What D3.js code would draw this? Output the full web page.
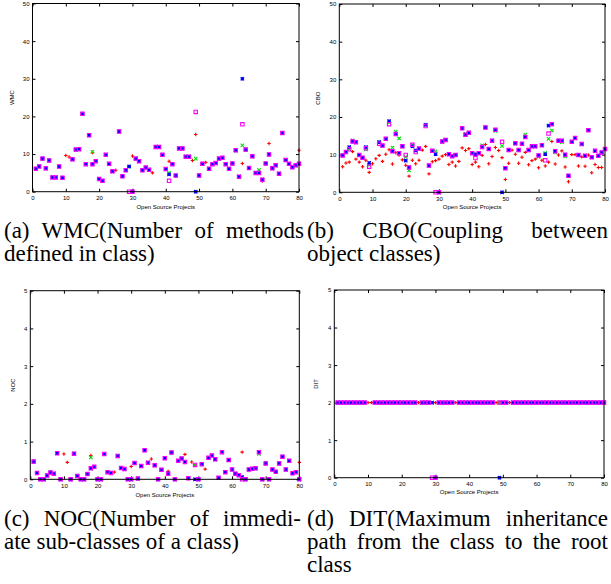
<!DOCTYPE html>
<html>
<head>
<meta charset="utf-8">
<script src="https://d3js.org/d3.v7.min.js"></script>
<style>
  body { margin: 0; background: #fff; }
  svg { display: block; }
  .tick text { font-family: "Liberation Sans", Arial, sans-serif; font-size: 6px; fill: #000; }
  .tick line { stroke: #000; }
  .axlab { font-family: "Liberation Sans", Arial, sans-serif; font-size: 6px; fill: #000; }
  .cap { font-family: "Liberation Serif", "Times New Roman", serif; font-size: 23px; fill: #000; }
</style>
</head>
<body>
<svg id="fig" width="611" height="584"></svg>
<script>
// project index on the x axis
var projects = d3.range(1, 81);
var xTickLabels = [0, 10, 20, 30, 40, 50, 60, 70, 80];
var yTicksBig = [0, 10, 20, 30, 40, 50];
var yTicksSmall = [0, 1, 2, 3, 4, 5];

// (a) WMC
var wmcRed = [6.1, 6.7, 8.8, 6.2, 8.3, 3.8, 3.8, 6.7, 3.7, 9.6,
  9.2, 8.6, 11.2, 11.3, 20.7, 7.3, 15.0, 10.4, 8.1, 3.4,
  2.9, 9.8, 7.4, 5.4, 5.7, 16.0, 4.1, 5.7, 6.7, 9.5,
  8.8, 8.1, 5.7, 6.4, 5.8, 5.0, 11.9, 11.9, 9.8, 6.0,
  8.1, 7.3, 4.3, 11.5, 11.5, 9.3, 9.3, 8.3, 15.2, 4.3,
  7.4, 7.8, 6.1, 7.3, 7.6, 8.8, 9.0, 7.3, 6.1, 7.5,
  11.0, 4.0, 7.5, 11.2, 6.3, 9.4, 5.0, 5.0, 2.8, 7.5,
  12.8, 6.2, 7.0, 4.8, 15.6, 8.4, 7.4, 6.5, 7.0, 11.0];
var wmcGreen = [6.1, 6.7, 8.8, 6.2, 8.3, 3.8, 3.8, 6.7, 3.7, null,
  null, 8.6, 11.2, 11.3, 20.7, 7.3, 15.0, 10.6, 8.1, 3.4,
  2.9, 9.8, 7.4, 5.4, null, 16.0, 4.1, 5.7, 6.7, 0,
  8.8, 8.1, 5.7, 6.4, 5.8, null, 11.9, 11.9, 9.8, 6.0,
  5.0, 7.3, 4.3, 11.5, 11.5, 9.3, 9.3, null, 8.8, 4.3,
  7.4, null, 6.1, 7.3, 7.6, 8.8, 9.0, 7.3, 6.1, 7.5,
  11.0, 4.0, 12.3, 11.2, 6.3, 9.4, 5.0, 5.8, 3.2, 7.5,
  9.9, 6.2, 7.0, 4.8, 15.6, 8.4, 7.4, 6.5, 7.0, 7.4];
var wmcBlue = [6.1, 6.7, 8.8, 6.2, 8.3, 3.8, 3.8, 6.7, 3.7, null,
  null, 8.6, 11.2, 11.3, 20.7, 7.3, 15.0, 7.3, 8.1, 3.4,
  2.9, 9.8, 7.4, 5.4, null, 16.0, 4.1, 5.7, 6.7, 0,
  8.8, 8.1, 5.7, 6.4, 5.8, null, 11.9, 11.9, 9.8, 6.0,
  4.6, 7.3, 4.3, 11.5, 11.5, 9.3, 9.3, null, 0, 4.3,
  7.4, null, 6.1, 7.3, 7.6, 8.8, 9.0, 7.3, 6.1, 7.5,
  11.0, 4.0, 30.0, 11.2, 6.3, 9.4, 5.0, 5.0, 3.2, 7.5,
  9.9, 6.2, 7.0, 4.8, 15.6, 8.4, 7.4, 6.5, 7.0, 7.4];
var wmcMagenta = [6.1, 6.7, 8.8, 6.2, 8.3, 3.8, 3.8, 6.7, 3.7, null,
  null, 8.6, 11.2, 11.3, 20.7, 7.3, 15.0, 7.3, 8.1, 3.4,
  2.9, 9.8, 7.4, 5.4, null, 16.0, 4.1, 5.7, 0, 0,
  8.8, 8.1, 5.7, 6.4, 5.8, null, 11.9, 11.9, 9.8, 6.0,
  2.9, 7.3, 4.3, 11.5, 11.5, 9.3, 9.3, null, 21.2, 4.3,
  7.4, null, 6.1, 7.3, 7.6, 8.8, 9.0, 7.3, 6.1, 7.5,
  11.0, 4.0, 17.9, 11.2, 6.3, 9.4, 5.0, 5.0, 3.2, 7.5,
  9.9, 6.2, 7.0, 4.8, 15.6, 8.4, 7.4, 6.5, 7.0, 7.4];

// (b) CBO
var cboRed = [6.8, 7.8, 8.0, 10.8, 8.8, 8.0, 6.8, 8.5, 5.3, 7.6,
  8.9, 9.8, 8.2, 10.1, 11.3, 7.5, 10.5, 9.9, 8.6, 7.2,
  4.3, 8.5, 7.6, 8.5, 11.2, 12.2, 4.9, 8.1, 8.4, 8.8,
  9.6, 10.0, 7.4, 8.0, 7.0, 8.2, 11.8, 11.1, 11.6, 7.4,
  8.0, 6.8, 9.8, 12.7, 7.6, 9.5, 11.9, 11.1, 9.2, 3.4,
  7.7, 11.2, 10.1, 7.7, 9.3, 10.6, 7.3, 8.4, 8.8, 6.5,
  8.5, 7.0, 8.0, 13.5, 7.5, 9.9, 11.0, 6.7, 2.8, 10.0,
  10.0, 7.0, 9.4, 6.9, 9.9, 5.2, 7.4, 6.6, 6.6, 11.5];
var cboGreen = [9.8, 10.7, 11.4, 13.8, 13.3, 9.9, 9.2, 11.4, 7.3, null,
  null, 13.3, 12.4, 14.2, 18.5, 11.9, 16.1, 14.3, 12.2, 9.4,
  5.8, 12.6, 11.1, 11.6, null, 17.9, 7.1, 11.0, 10.9, 0,
  13.3, 13.9, 10.1, 9.6, 9.9, null, 17.0, 15.5, 15.8, 10.4,
  10.0, 10.4, 12.5, 17.2, 11.5, 13.7, 16.3, null, 12.3, 6.4,
  11.2, null, 13.0, 11.2, 12.9, 15.3, 11.2, 12.2, 12.2, 9.4,
  12.5, 10.4, 14.2, 16.4, 10.6, 13.7, 13.3, 9.5, 4.4, 13.4,
  14.4, 9.9, 12.8, 9.7, 16.5, 9.3, 11.0, 9.7, 10.6, 11.5];
var cboBlue = [9.8, 10.7, 12.0, 13.5, 13.3, 9.9, 9.2, 12.0, 7.8, null,
  null, 13.3, 12.4, 14.2, 18.9, 10.9, 15.5, 10.4, 12.2, 8.4,
  6.6, 12.2, 11.1, 11.6, null, 17.9, 7.1, 11.0, 10.1, 0,
  13.5, 13.9, 10.1, 9.6, 9.9, null, 17.0, 15.3, 15.8, 10.4,
  10.1, 10.4, 12.0, 17.2, 11.5, 13.7, 16.6, null, 0, 6.4,
  11.2, null, 13.0, 11.2, 12.9, 14.7, 11.2, 12.2, 12.2, 9.8,
  12.5, 10.1, 17.7, 18.1, 10.9, 13.7, 13.7, 10.0, 4.4, 13.4,
  14.4, 9.9, 12.8, 9.7, 16.5, 9.3, 11.0, 9.7, 10.6, 11.5];
var cboMagenta = [9.8, 10.7, 11.4, 13.5, 13.3, 9.9, 9.2, 11.7, 6.8, null,
  null, 12.9, 12.4, 14.2, 18.1, 10.9, 15.5, 10.4, 12.2, 9.9,
  6.6, 12.6, 10.7, 11.6, null, 17.6, 7.1, 11.0, 0, 0,
  13.5, 13.9, 10.1, 9.6, 9.9, null, 17.0, 15.3, 15.8, 10.4,
  9.1, 10.4, 12.0, 17.2, 11.5, 13.7, 16.6, null, 13.4, 6.4,
  11.2, null, 13.0, 11.2, 12.9, 14.7, 11.2, 12.2, 12.2, 9.8,
  12.5, 8.5, 15.6, 18.1, 10.9, 13.7, 13.7, 10.0, 4.4, 13.4,
  14.4, 9.9, 12.8, 9.7, 16.5, 9.3, 11.0, 9.7, 10.6, 11.5];

// (c) NOC
var nocRed = [0.47, 0.17, 0, 0, 0.10, 0.18, 0.15, 0.69, 0, 0.67,
  0.45, 0, 0.68, 0.09, 0, 0, 0.14, 0.63, 0.33, 0,
  0, 0.67, 0.19, 0.17, 0.19, 0.62, 0.30, 0.27, 0, 0.34,
  0.43, 0.02, 0.35, 0.77, 0.44, 0.54, 0.37, 0, 0.25, 0.56,
  0.21, 0.71, 0, 0.49, 0.55, 0.66, 0.03, 0.46, 0.38, 0,
  0.40, 0.27, 0.57, 0.63, 0.53, 0.04, 0.72, 0.19, 0.51, 0.26,
  0.15, 0.11, 0.72, 0, 0.26, 0.28, 0.29, 0.72, 0, 0.42,
  0, 0.26, 0.20, 0.42, 0.60, 0.26, 0.49, 0.16, 0.19, 0.45];
var nocGreen = [0.47, 0.17, 0, 0, 0.10, 0.18, 0.15, 0.69, 0, null,
  null, 0, 0.68, 0.09, 0, 0, 0.14, 0.58, 0.33, 0,
  0, 0.67, 0.19, 0.17, null, 0.62, 0.30, 0.27, 0, 0,
  0.43, 0.02, 0.35, 0.77, 0.44, null, 0.37, 0, 0.25, 0.56,
  0.16, 0.71, 0, 0.49, 0.55, 0.46, 0.03, null, 0.38, 0,
  0.40, null, 0.57, 0.63, 0.53, 0.04, 0.72, 0.19, 0.51, 0.26,
  0.15, 0.11, 0, 0, 0.26, 0.28, 0.29, 0.67, 0, 0.42,
  0, 0.26, 0.20, 0.42, 0.60, 0.26, 0.49, 0.16, 0.19, 0];
var nocBlue = [0.47, 0.17, 0, 0, 0.10, 0.18, 0.15, 0.69, 0, null,
  null, 0, 0.68, 0.09, 0, 0, 0.14, 0.29, 0.33, 0,
  0, 0.67, 0.19, 0.17, null, 0.62, 0.30, 0.27, 0, 0,
  0.43, 0.02, 0.35, 0.77, 0.44, null, 0.37, 0, 0.25, 0.56,
  0.16, 0.71, 0, 0.49, 0.55, 0.46, 0.03, null, 0, 0,
  0.40, null, 0.57, 0.63, 0.53, 0.04, 0.72, 0.19, 0.51, 0.26,
  0.15, 0.11, 0.06, 0, 0.26, 0.28, 0.29, 0.72, 0, 0.42,
  0, 0.26, 0.20, 0.42, 0.60, 0.26, 0.49, 0.16, 0.19, 0];
var nocMagenta = [0.47, 0.17, 0, 0, 0.10, 0.18, 0.15, 0.69, 0, null,
  null, 0, 0.68, 0.09, 0, 0, 0.14, 0.29, 0.33, 0,
  0, 0.67, 0.19, 0.17, null, 0.62, 0.30, 0.27, 0, 0,
  0.43, 0.02, 0.35, 0.77, 0.44, null, 0.37, 0, 0.25, 0.56,
  0.15, 0.71, 0, 0.49, 0.55, 0.46, 0.03, null, 0.38, 0,
  0.40, null, 0.57, 0.63, 0.53, 0.04, 0.72, 0.19, 0.51, 0.26,
  0.15, 0.11, 0, 0, 0.26, 0.28, 0.29, 0.72, 0, 0.42,
  0, 0.26, 0.20, 0.42, 0.60, 0.26, 0.49, 0.16, 0.19, 0];

// (d) DIT
var ditRed = [2, 2, 2, 2, 2, 2, 2, 2, 2, 2,
  2, 2, 2, 2, 2, 2, 2, 2, 2, 2,
  2, 2, 2, 2, 2, 2, 2, 2, 2, 2,
  2, 2, 2, 2, 2, 2, 2, 2, 2, 2,
  2, 2, 2, 2, 2, 2, 2, 2, 2, 2,
  2, 2, 2, 2, 2, 2, 2, 2, 2, 2,
  2, 2, 2, 2, 2, 2, 2, 2, 2, 2,
  2, 2, 2, 2, 2, 2, 2, 2, 2, 2];
var ditGreen = [2, 2, 2, 2, 2, 2, 2, 2, 2, null,
  null, 2, 2, 2, 2, 2, 2, 2, 2, 2,
  2, 2, 2, 2, null, 2, 2, 2, 2, 0,
  2, 2, 2, 2, 2, null, 2, 2, 2, 2,
  2, 2, 2, 2, 2, 2, 2, null, 2, 2,
  2, null, 2, 2, 2, 2, 2, 2, 2, 2,
  2, 2, 2, 2, 2, 2, 2, 2, 2, 2,
  2, 2, 2, 2, 2, 2, 2, 2, 2, 2];
var ditBlue = [2, 2, 2, 2, 2, 2, 2, 2, 2, null,
  null, 2, 2, 2, 2, 2, 2, 2, 2, 2,
  2, 2, 2, 2, null, 2, 2, 2, 2, 0,
  2, 2, 2, 2, 2, null, 2, 2, 2, 2,
  2, 2, 2, 2, 2, 2, 2, null, 0, 2,
  2, null, 2, 2, 2, 2, 2, 2, 2, 2,
  2, 2, 2, 2, 2, 2, 2, 2, 2, 2,
  2, 2, 2, 2, 2, 2, 2, 2, 2, 2];
var ditMagenta = [2, 2, 2, 2, 2, 2, 2, 2, 2, null,
  null, 2, 2, 2, 2, 2, 2, 2, 2, 2,
  2, 2, 2, 2, null, 2, 2, 2, 0, 0,
  2, 2, 2, 2, 2, null, 2, 2, 2, 2,
  2, 2, 2, 2, 2, 2, 2, null, 2, 2,
  2, null, 2, 2, 2, 2, 2, 2, 2, 2,
  2, 2, 2, 2, 2, 2, 2, 2, 2, 2,
  2, 2, 2, 2, 2, 2, 2, 2, 2, 2];

var svg = d3.select("#fig");
var s = 1.7; // marker half size

// gnuplot style point types: +, x, *, open box
var markers = {
  plus: "M" + (-s) + ",0H" + s + "M0," + (-s) + "V" + s,
  cross: "M" + (-s) + "," + (-s) + "L" + s + "," + s + "M" + (-s) + "," + s + "L" + s + "," + (-s),
  box: "M" + (-s) + "," + (-s) + "H" + s + "V" + s + "H" + (-s) + "Z"
};
markers.star = markers.plus + markers.cross;

function panel(cfg) {
  var g = svg.append("g");
  var x = d3.scaleLinear().domain([0, 80]).range([cfg.left, cfg.right]);
  var y = d3.scaleLinear().domain([0, cfg.yMax]).range([cfg.bottom, cfg.top]);

  // ticks point inward on all four sides
  var ax = [
    d3.axisBottom(x).tickValues(xTickLabels).tickSize(-3).tickPadding(4),
    d3.axisTop(x).tickValues(xTickLabels).tickSize(-3).tickFormat(""),
    d3.axisLeft(y).tickValues(cfg.yTicks).tickSize(-3).tickPadding(3).tickFormat(d3.format("d")),
    d3.axisRight(y).tickValues(cfg.yTicks).tickSize(-3).tickFormat("")
  ];
  var tr = ["translate(0," + cfg.bottom + ")", "translate(0," + cfg.top + ")",
            "translate(" + cfg.left + ",0)", "translate(" + cfg.right + ",0)"];
  ax.forEach(function(a, i) {
    var ga = g.append("g").attr("transform", tr[i]).call(a);
    ga.select(".domain").remove();
    ga.selectAll("text").attr("font-size", null).attr("font-family", null);
  });

  var series = [
    {vals: cfg.red, color: "#ff0000", m: "plus"},
    {vals: cfg.green, color: "#00e000", m: "cross"},
    {vals: cfg.blue, color: "#0000ff", m: "star"},
    {vals: cfg.magenta, color: "#ff00ff", m: "box"}
  ];
  series.forEach(function(sr) {
    var pts = projects.map(function(p, i) { return {x: p, v: sr.vals[i]}; })
      .filter(function(d) { return d.v !== null; });
    g.selectAll(null).data(pts).enter().append("path")
      .attr("d", markers[sr.m])
      .attr("transform", function(d) { return "translate(" + x(d.x) + "," + y(d.v) + ")"; })
      .attr("fill", "none")
      .attr("stroke", sr.color)
      .attr("stroke-width", 1.1);
  });

  g.append("rect")
    .attr("x", cfg.left).attr("y", cfg.top)
    .attr("width", cfg.right - cfg.left).attr("height", cfg.bottom - cfg.top)
    .attr("fill", "none").attr("stroke", "#000").attr("stroke-width", 1);

  g.append("text").attr("class", "axlab")
    .attr("x", (cfg.left + cfg.right) / 2).attr("y", cfg.xlabY)
    .attr("text-anchor", "middle").text("Open Source Projects");
  g.append("text").attr("class", "axlab")
    .attr("transform", "translate(" + cfg.ylabX + "," + (cfg.top + cfg.bottom) / 2 + ") rotate(-90)")
    .attr("text-anchor", "middle").text(cfg.name);
}

panel({name: "WMC", left: 32.5, right: 299, top: 3.5, bottom: 191.7, yMax: 50, yTicks: yTicksBig,
  xlabY: 209, ylabX: 14, red: wmcRed, green: wmcGreen, blue: wmcBlue, magenta: wmcMagenta});
panel({name: "CBO", left: 339.3, right: 605, top: 4, bottom: 192.3, yMax: 50, yTicks: yTicksBig,
  xlabY: 209, ylabX: 320, red: cboRed, green: cboGreen, blue: cboBlue, magenta: cboMagenta});
panel({name: "NOC", left: 30.3, right: 299.3, top: 290.7, bottom: 479.3, yMax: 5, yTicks: yTicksSmall,
  xlabY: 497, ylabX: 14.5, red: nocRed, green: nocGreen, blue: nocBlue, magenta: nocMagenta});
panel({name: "DIT", left: 334.3, right: 604, top: 290, bottom: 477.7, yMax: 5, yTicks: yTicksSmall,
  xlabY: 494, ylabX: 318, red: ditRed, green: ditGreen, blue: ditBlue, magenta: ditMagenta});

// captions: one text per line, justified lines get extra word-spacing
function capLine(text, x0, x1, yb, justify) {
  var t = svg.append("text").attr("class", "cap").attr("x", x0).attr("y", yb).text(text);
  if (justify) {
    var gaps = text.split(" ").length - 1;
    var natural = t.node().getComputedTextLength();
    t.style("word-spacing", ((x1 - x0 - natural) / gaps) + "px");
  }
}
capLine("(a) WMC(Number of methods", 4, 304, 238, true);
capLine("defined in class)", 4, 304, 261, false);
capLine("(b) CBO(Coupling between", 307, 608, 238, true);
capLine("object classes)", 307, 608, 261, false);
capLine("(c) NOC(Number of immedi-", 4, 301, 526, true);
capLine("ate sub-classes of a class)", 4, 301, 549, false);
capLine("(d) DIT(Maximum inheritance", 307, 608, 526, true);
capLine("path from the class to the root", 307, 608, 549, true);
capLine("class", 307, 608, 572, false);
</script>
</body>
</html>
